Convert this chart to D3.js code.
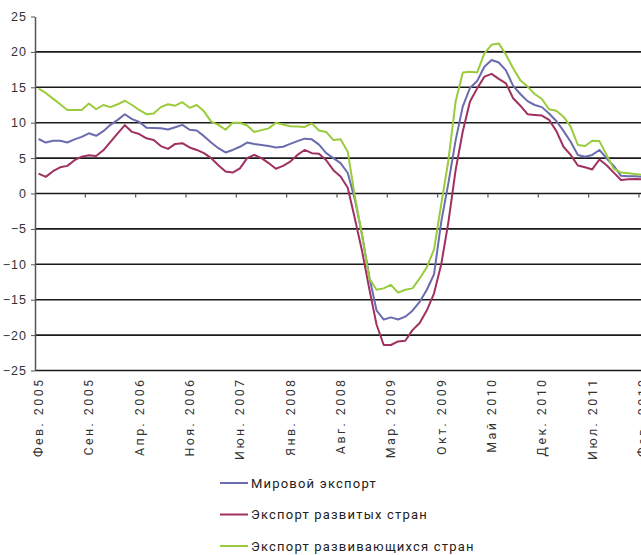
<!DOCTYPE html>
<html>
<head>
<meta charset="utf-8">
<script src="https://cdn.jsdelivr.net/npm/d3@7"></script>
<style>
  body { margin: 0; background: #fff; }
  svg { display: block; font-family: Roboto, "Liberation Sans", Arial, sans-serif; }
</style>
</head>
<body>
<div id="chart"></div>
<script>
// monthly data, Feb 2005 .. Feb 2012 (85 months)
const tickLabels = ['Фев. 2005', 'Сен. 2005', 'Апр. 2006', 'Ноя. 2006', 'Июн. 2007', 'Янв. 2008', 'Авг. 2008',
  'Мар. 2009', 'Окт. 2009', 'Май 2010', 'Дек. 2010', 'Июл. 2011', 'Фев. 2012'];
const labelEvery = 7;

const world = [7.7, 7.2, 7.45, 7.45, 7.2, 7.65, 8.0, 8.5, 8.15, 8.8, 9.7, 10.4, 11.2, 10.5, 10.1, 9.3, 9.25,
  9.2, 9.05, 9.35, 9.7, 9.0, 8.9, 8.1, 7.2, 6.4, 5.8, 6.15, 6.6, 7.2, 7.0, 6.85, 6.7, 6.5, 6.6, 7.0, 7.4,
  7.75, 7.65, 6.9, 5.7, 5.0, 4.3, 2.9, -0.9, -5.9, -11.8, -16.5, -17.8, -17.5, -17.8, -17.4, -16.55, -15.3,
  -13.6, -11.4, -4.0, 1.5, 7.5, 12.3, 14.9, 15.9, 17.9, 18.85, 18.5, 17.4, 15.2, 14.05, 13.05, 12.5, 12.2,
  11.3, 10.25, 8.85, 7.3, 5.45, 5.2, 5.45, 6.15, 4.95, 3.9, 2.5, 2.45, 2.45, 2.35];

const developed = [2.8, 2.35, 3.15, 3.7, 3.9, 4.7, 5.2, 5.4, 5.3, 6.1, 7.3, 8.5, 9.65, 8.7, 8.4, 7.8, 7.55,
  6.7, 6.3, 7.0, 7.1, 6.5, 6.15, 5.7, 5.0, 4.0, 3.1, 2.95, 3.55, 5.0, 5.45, 5.0, 4.3, 3.5, 3.9, 4.5, 5.45,
  6.15, 5.7, 5.6, 4.7, 3.3, 2.4, 0.8, -3.6, -8.2, -13.5, -18.5, -21.4, -21.4, -20.9, -20.8, -19.3, -18.3,
  -16.5, -14.1, -10.0, -4.0, 3.3, 8.8, 13.0, 14.85, 16.5, 16.9, 16.2, 15.55, 13.45, 12.4, 11.2, 11.1, 11.0,
  10.4, 8.85, 6.6, 5.45, 3.95, 3.7, 3.4, 4.8, 4.0, 2.95, 1.9, 2.0, 2.05, 2.0];

const developing = [14.8, 14.2, 13.4, 12.6, 11.8, 11.8, 11.8, 12.7, 11.9, 12.5, 12.2, 12.6, 13.1, 12.5, 11.8,
  11.2, 11.3, 12.2, 12.6, 12.4, 12.9, 12.1, 12.5, 11.6, 10.15, 9.7, 9.0, 10.0, 10.0, 9.6, 8.7, 8.95, 9.2,
  10.0, 9.75, 9.5, 9.45, 9.4, 9.9, 8.9, 8.7, 7.55, 7.65, 5.9, -0.5, -6.0, -12.0, -13.6, -13.4, -12.9, -14.0,
  -13.6, -13.4, -12.0, -10.4, -7.9, -1.5, 4.7, 13.0, 17.1, 17.2, 17.1, 19.8, 21.0, 21.2, 19.6, 17.7, 16.0,
  15.1, 14.05, 13.35, 11.9, 11.7, 10.85, 9.45, 6.85, 6.7, 7.45, 7.4, 5.45, 3.5, 2.95, 2.85, 2.75, 2.6];

const seriesNames = ['Мировой экспорт', 'Экспорт развитых стран', 'Экспорт развивающихся стран'];
const seriesColors = ['#6b6bb0', '#a0305f', '#9acb3c'];
const yTicks = d3.range(-25, 26, 5);

let width = 641;
let height = 555;
let plot = {left: 35, top: 16.5, bottom: 370.5, step: 7.19};

let svg = d3.select('#chart')
  .append('svg')
    .attr('width', width)
    .attr('height', height);

let n = world.length;
let x = d3.scaleLinear().domain([0, n]).range([plot.left, plot.left + n * plot.step]);
let y = d3.scaleLinear().domain([-25, 25]).range([plot.bottom, plot.top]);

// horizontal grid
svg.append('g')
  .selectAll('line')
  .data(yTicks.filter(d => d < 25))
  .enter().append('line')
    .attr('x1', plot.left)
    .attr('x2', width)
    .attr('y1', d => y(d))
    .attr('y2', d => y(d))
    .style('stroke', '#1a1a1a')
    .style('stroke-width', 1.6);

// y axis
let yAxis = d3.axisLeft(y).tickValues(yTicks).tickSize(4).tickSizeOuter(0).tickPadding(4);
let yAxisSvg = svg.append('g')
  .attr('transform', `translate(${plot.left},0)`)
  .call(yAxis);
yAxisSvg.select('.domain').style('stroke', '#555').style('stroke-width', 1.5);
yAxisSvg.selectAll('.tick line').style('stroke', '#555');
yAxisSvg.selectAll('.tick text')
  .style('font-size', '12.5px')
  .style('letter-spacing', '1px')
  .style('fill', '#333');

// category ticks on the zero line
let tickIdx = d3.range(1, tickLabels.length).map(k => k * labelEvery);
svg.append('g')
  .selectAll('line')
  .data(tickIdx)
  .enter().append('line')
    .attr('x1', d => x(d))
    .attr('x2', d => x(d))
    .attr('y1', y(0))
    .attr('y2', y(0) + 4)
    .style('stroke', '#555')
    .style('stroke-width', 1.2);

// category labels (the last one runs off the right edge, as in the source)
svg.append('g')
  .selectAll('text')
  .data(tickLabels)
  .enter().append('text')
    .attr('transform', (d, k) => `translate(${x(k * labelEvery + 0.5)},${plot.bottom + 7}) rotate(-90)`)
    .attr('dy', '0.35em')
    .attr('text-anchor', 'end')
    .style('font-size', '12.5px')
    .style('letter-spacing', '2.4px')
    .style('fill', '#333')
    .text(d => d);

// series
let line = d3.line()
  .x((d, i) => x(i + 0.5))
  .y(d => y(d));

[world, developed, developing].forEach((values, s) => {
  svg.append('path')
    .datum(values)
    .attr('d', line)
    .style('fill', 'none')
    .style('stroke', seriesColors[s])
    .style('stroke-width', 2)
    .style('stroke-linejoin', 'round');
});

// legend
let legend = svg.append('g')
  .attr('transform', 'translate(220,483)');
let items = legend.selectAll('g')
  .data(seriesNames)
  .enter().append('g')
    .attr('transform', (d, s) => `translate(0,${s * 31.5})`);
items.append('line')
  .attr('x1', 0)
  .attr('x2', 28)
  .style('stroke', (d, s) => seriesColors[s])
  .style('stroke-width', 2);
items.append('text')
  .attr('x', 31)
  .attr('dy', '0.35em')
  .style('font-size', '13px')
  .style('letter-spacing', '1.2px')
  .style('fill', '#222')
  .text(d => d);
</script>
</body>
</html>
